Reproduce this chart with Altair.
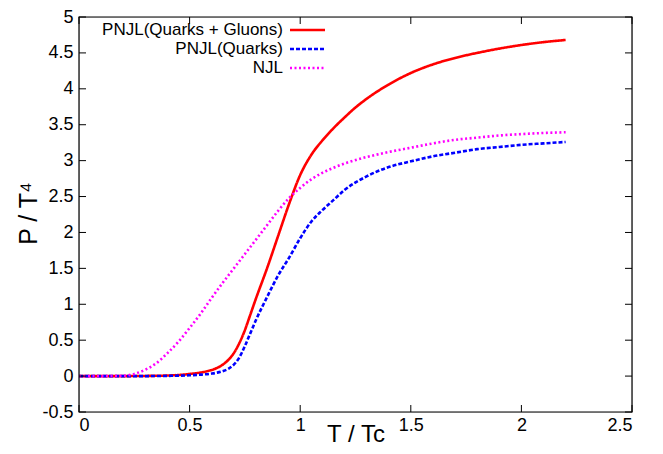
import altair as alt
import pandas as pd

# ---- data ----
T_qg = [0, 0.1, 0.2, 0.3, 0.4, 0.45, 0.5, 0.55, 0.575, 0.6, 0.625, 0.65, 0.675,
        0.7, 0.725, 0.75, 0.775, 0.8, 0.85, 0.9, 0.95, 1.0, 1.05, 1.1, 1.15, 1.2,
        1.25, 1.3, 1.4, 1.5, 1.6, 1.7, 1.8, 1.9, 2.0, 2.1, 2.2]
P_qg = [0, 0, 0, 0.002, 0.008, 0.015, 0.03, 0.05, 0.065, 0.085, 0.115, 0.16,
        0.225, 0.32, 0.46, 0.64, 0.86, 1.08, 1.5, 1.95, 2.4, 2.8, 3.08, 3.28,
        3.45, 3.6, 3.74, 3.86, 4.06, 4.22, 4.34, 4.43, 4.50, 4.56, 4.61, 4.65,
        4.68]

T_q = [0, 0.1, 0.2, 0.3, 0.4, 0.45, 0.5, 0.55, 0.6, 0.625, 0.65, 0.675, 0.7,
       0.725, 0.75, 0.775, 0.8, 0.85, 0.9, 0.95, 1.0, 1.05, 1.1, 1.15, 1.2, 1.3,
       1.4, 1.5, 1.6, 1.7, 1.8, 1.9, 2.0, 2.1, 2.2]
P_q = [0, 0, 0, 0, 0.003, 0.006, 0.012, 0.02, 0.035, 0.048, 0.068, 0.1, 0.16,
       0.26, 0.42, 0.6, 0.78, 1.1, 1.4, 1.65, 1.92, 2.15, 2.31, 2.45, 2.59, 2.78,
       2.91, 2.99, 3.06, 3.11, 3.16, 3.19, 3.22, 3.24, 3.26]

T_njl = [0, 0.1, 0.2, 0.25, 0.3, 0.35, 0.4, 0.45, 0.5, 0.55, 0.6, 0.65, 0.7,
         0.75, 0.8, 0.85, 0.9, 0.95, 1.0, 1.05, 1.1, 1.15, 1.2, 1.3, 1.4, 1.5,
         1.6, 1.7, 1.8, 1.9, 2.0, 2.1, 2.2]
P_njl = [0, 0, 0.005, 0.03, 0.09, 0.18, 0.32, 0.48, 0.67, 0.87, 1.09, 1.3, 1.5,
         1.7, 1.9, 2.1, 2.3, 2.48, 2.62, 2.74, 2.83, 2.9, 2.96, 3.05, 3.12, 3.18,
         3.24, 3.29, 3.32, 3.35, 3.37, 3.385, 3.395]

series_names = ["PNJL(Quarks + Gluons)", "PNJL(Quarks)", "NJL"]
series_colors = ["#ff0000", "#0000ff", "#ff00ff"]
series_dash = [[1, 0], [4, 2], [2, 2.5]]

x_ticks = [0, 0.5, 1, 1.5, 2, 2.5]
y_ticks = [-0.5, 0, 0.5, 1, 1.5, 2, 2.5, 3, 3.5, 4, 4.5, 5]

W, H = 553, 395
FONT = "Liberation Sans"
TL = 7

xscale = alt.Scale(domain=[0, 2.5], nice=False, zero=False)
yscale = alt.Scale(domain=[-0.5, 5], nice=False, zero=False)

xaxis = alt.Axis(values=x_ticks, labelExpr="'' + datum.value", title="T / Tc",
                 titleFontSize=24, titleFontWeight="normal", titleY=29,
                 titleBaseline="alphabetic",
                 labelPadding=4, labelFontSize=18, grid=False, domain=False,
                 ticks=False, labelFont=FONT, titleFont=FONT,
                 labelColor="black", titleColor="black")
yaxis = alt.Axis(values=y_ticks, labelExpr="'' + datum.value", title="P / T⁴",
                 titleFontSize=25, titleFontWeight="normal", titleY=196,
                 titleX=-38, labelPadding=6, labelFontSize=18, grid=False,
                 domain=False, ticks=False, labelFont=FONT, titleFont=FONT,
                 labelColor="black", titleColor="black")

def X(field):
    return alt.X(field, type="quantitative", scale=xscale, axis=xaxis)

def Y(field):
    return alt.Y(field, type="quantitative", scale=yscale, axis=yaxis)

layers = []
for Tv, Pv, col, dash in zip([T_qg, T_q, T_njl], [P_qg, P_q, P_njl],
                             series_colors, series_dash):
    df = pd.DataFrame({"T": Tv, "P": Pv})
    layers.append(
        alt.Chart(df).mark_line(color=col, strokeWidth=2.6, strokeDash=dash,
                                interpolate="monotone", clip=True).encode(
            x=X("T"), y=Y("P"))
    )

# inward tick marks (gnuplot style, mirrored)
ydf = pd.DataFrame({"P": y_ticks})
xdf = pd.DataFrame({"T": x_ticks})
tick_style = dict(color="black", strokeWidth=1)
layers += [
    alt.Chart(ydf).mark_rule(**tick_style).encode(
        y=Y("P"), x=alt.value(0), x2=alt.value(TL)),
    alt.Chart(ydf).mark_rule(**tick_style).encode(
        y=Y("P"), x=alt.value(W - TL), x2=alt.value(W)),
    alt.Chart(xdf).mark_rule(**tick_style).encode(
        x=X("T"), y=alt.value(H), y2=alt.value(H - TL)),
    alt.Chart(xdf).mark_rule(**tick_style).encode(
        x=X("T"), y=alt.value(0), y2=alt.value(TL)),
]

# plot border
bdf = pd.DataFrame({"b": [0]})
layers.append(
    alt.Chart(bdf).mark_rect(fill=None, stroke="black", strokeWidth=1.2).encode(
        x=alt.value(0), x2=alt.value(W), y=alt.value(0), y2=alt.value(H))
)

# key (label on the left, sample on the right, as in gnuplot)
key_y = [13, 32, 51]
for name, col, dash, ky in zip(series_names, series_colors, series_dash, key_y):
    kdf = pd.DataFrame({"label": [name]})
    layers.append(
        alt.Chart(kdf).mark_text(align="right", baseline="middle", font=FONT,
                                 fontSize=17, color="black").encode(
            text="label:N", x=alt.value(204), y=alt.value(ky))
    )
    layers.append(
        alt.Chart(kdf).mark_rule(color=col, strokeWidth=2.6, strokeDash=dash).encode(
            x=alt.value(211), x2=alt.value(246), y=alt.value(ky))
    )

chart = alt.layer(*layers).properties(
    width=W, height=H,
    autosize=alt.AutoSizeParams(type="none"),
    padding={"left": 71, "top": 9, "right": 20, "bottom": 34},
).configure_view(strokeWidth=0).configure(background="white")

chart.save("out.html", embed_options={"renderer": "svg", "actions": False})
